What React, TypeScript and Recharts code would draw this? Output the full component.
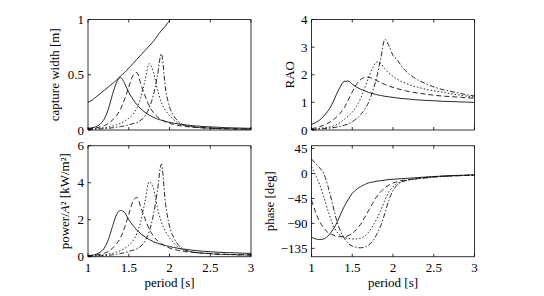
import React from 'react';
import { LineChart, Line, XAxis, YAxis } from 'recharts';

// period [s] samples shared by every curve
const period = [
  1.0, 1.05, 1.1, 1.15, 1.2, 1.25, 1.3, 1.35, 1.4, 1.45, 1.5, 1.55, 1.6, 1.65, 1.7, 1.75, 1.8,
  1.85, 1.9, 1.95, 2.0, 2.05, 2.1, 2.15, 2.2, 2.25, 2.3, 2.4, 2.5, 2.6, 2.7, 2.8, 2.9, 3.0,
];

// upper bound curve in the capture width panel (leaves the box just after 2 s)
const widthBound = [
  0.25, 0.27, 0.3, 0.33, 0.36, 0.39, 0.42, 0.45, 0.49, 0.52, 0.56, 0.6, 0.64, 0.68, 0.72, 0.76,
  0.8, 0.85, 0.9, 0.94, 0.99, 1.04,
];

const cwSolid = [0.015, 0.02, 0.03, 0.055, 0.1, 0.19, 0.32, 0.43, 0.475, 0.42, 0.34, 0.28, 0.23, 0.19, 0.16, 0.135, 0.115, 0.1, 0.088, 0.078, 0.07, 0.062, 0.056, 0.05, 0.046, 0.042, 0.038, 0.032, 0.028, 0.024, 0.021, 0.019, 0.017, 0.015];
const cwDashed = [0.01, 0.015, 0.02, 0.028, 0.04, 0.06, 0.09, 0.13, 0.19, 0.28, 0.39, 0.49, 0.52, 0.41, 0.31, 0.22, 0.16, 0.12, 0.095, 0.075, 0.06, 0.05, 0.042, 0.036, 0.031, 0.028, 0.025, 0.02, 0.017, 0.014, 0.012, 0.011, 0.01, 0.009];
const cwDotted = [0.008, 0.01, 0.013, 0.017, 0.022, 0.028, 0.036, 0.047, 0.06, 0.08, 0.105, 0.14, 0.2, 0.3, 0.45, 0.6, 0.53, 0.37, 0.25, 0.18, 0.13, 0.095, 0.065, 0.048, 0.038, 0.032, 0.027, 0.02, 0.016, 0.013, 0.011, 0.01, 0.009, 0.008];
const cwDashDot = [0.005, 0.006, 0.008, 0.01, 0.013, 0.016, 0.02, 0.025, 0.031, 0.038, 0.047, 0.057, 0.067, 0.09, 0.128, 0.197, 0.31, 0.48, 0.69, 0.38, 0.21, 0.13, 0.083, 0.055, 0.04, 0.032, 0.027, 0.021, 0.017, 0.013, 0.011, 0.009, 0.008, 0.007];

const raoSolid = [0.2, 0.27, 0.36, 0.5, 0.68, 0.92, 1.25, 1.55, 1.76, 1.77, 1.66, 1.56, 1.48, 1.42, 1.36, 1.32, 1.28, 1.25, 1.22, 1.2, 1.18, 1.16, 1.14, 1.13, 1.12, 1.1, 1.09, 1.07, 1.06, 1.04, 1.03, 1.02, 1.01, 1.0];
const raoDashed = [0.05, 0.08, 0.12, 0.17, 0.24, 0.33, 0.45, 0.6, 0.8, 1.08, 1.38, 1.65, 1.82, 1.9, 1.91, 1.86, 1.79, 1.72, 1.65, 1.59, 1.54, 1.5, 1.46, 1.42, 1.39, 1.36, 1.34, 1.3, 1.26, 1.23, 1.21, 1.19, 1.17, 1.15];
const raoDotted = [0.03, 0.04, 0.06, 0.08, 0.1, 0.13, 0.18, 0.27, 0.38, 0.5, 0.64, 0.85, 1.12, 1.5, 1.9, 2.25, 2.46, 2.4, 2.22, 2.06, 1.94, 1.84, 1.76, 1.7, 1.64, 1.59, 1.55, 1.48, 1.42, 1.37, 1.32, 1.27, 1.23, 1.19];
const raoDashDot = [0.02, 0.03, 0.04, 0.05, 0.06, 0.08, 0.1, 0.13, 0.17, 0.22, 0.3, 0.4, 0.55, 0.73, 1.0, 1.4, 1.9, 2.6, 3.28, 3.05, 2.7, 2.55, 2.33, 2.16, 2.02, 1.91, 1.82, 1.68, 1.56, 1.47, 1.4, 1.34, 1.28, 1.23];

const powerSolid = [0.06, 0.08, 0.13, 0.25, 0.47, 0.93, 1.63, 2.27, 2.5, 2.39, 2.0, 1.7, 1.44, 1.23, 1.07, 0.93, 0.81, 0.73, 0.66, 0.6, 0.55, 0.5, 0.46, 0.42, 0.4, 0.37, 0.34, 0.3, 0.27, 0.24, 0.22, 0.21, 0.19, 0.18];
const powerDashed = [0.04, 0.06, 0.09, 0.13, 0.19, 0.29, 0.46, 0.69, 1.04, 1.59, 2.29, 2.98, 3.2, 2.65, 2.06, 1.51, 1.13, 0.87, 0.71, 0.57, 0.47, 0.4, 0.35, 0.3, 0.27, 0.25, 0.23, 0.19, 0.17, 0.14, 0.13, 0.12, 0.11, 0.11];
const powerDotted = [0.03, 0.04, 0.06, 0.08, 0.1, 0.14, 0.18, 0.25, 0.33, 0.45, 0.62, 0.85, 1.25, 1.94, 3.0, 4.05, 3.74, 2.68, 1.86, 1.38, 1.02, 0.76, 0.53, 0.4, 0.33, 0.28, 0.24, 0.19, 0.16, 0.13, 0.12, 0.11, 0.1, 0.09];
const powerDashDot = [0.02, 0.02, 0.03, 0.05, 0.06, 0.08, 0.1, 0.13, 0.17, 0.22, 0.28, 0.35, 0.42, 0.58, 0.85, 1.35, 2.2, 3.5, 5.0, 2.9, 1.65, 1.05, 0.68, 0.46, 0.34, 0.28, 0.24, 0.2, 0.17, 0.13, 0.12, 0.1, 0.09, 0.08];

const phaseSolid = [-115, -118, -119, -118, -113, -104, -92, -76, -60, -47, -36, -29, -24, -20, -17, -15.5, -14, -13, -12, -11, -10.5, -10, -9.5, -9, -8.5, -8, -7.5, -6.5, -5.5, -4.8, -4, -3.5, -3, -2.5];
const phaseDashed = [-48, -70, -87, -98, -106, -110, -113, -114, -114, -112, -108, -101, -92, -80, -67, -54, -42, -33, -26, -21, -17, -15, -13, -12, -11, -10, -9, -7.5, -6, -5, -4.5, -4, -3.5, -3];
const phaseDotted = [12, -3, -20, -42, -66, -88, -103, -111, -115, -117, -118, -118, -117, -113, -106, -95, -82, -66, -48, -33, -24, -18, -15, -13, -11.5, -10.5, -9.5, -8, -6.5, -5.5, -4.5, -4, -3.5, -3];
const phaseDashDot = [26, 18, 10, 0, -22, -50, -80, -102, -116, -126, -131, -133, -134, -133, -129, -122, -110, -94, -72, -48, -31, -21, -16, -13, -11.5, -10.5, -9.5, -8, -6.5, -5.5, -4.5, -4, -3.5, -3];

const periodTicks = [1, 1.5, 2, 2.5, 3];
const cwTicks = [0, 0.5, 1];
const raoTicks = [0, 1, 2, 3, 4];
const powerTicks = [0, 2, 4, 6];
const phaseTicks = [-135, -90, -45, 0, 45];

const rows = period.map((T, i) => ({
  T,
  bound: i < widthBound.length ? widthBound[i] : null,
  cw1: cwSolid[i], cw2: cwDashed[i], cw3: cwDotted[i], cw4: cwDashDot[i],
  rao1: raoSolid[i], rao2: raoDashed[i], rao3: raoDotted[i], rao4: raoDashDot[i],
  p1: powerSolid[i], p2: powerDashed[i], p3: powerDotted[i], p4: powerDashDot[i],
  ph1: phaseSolid[i], ph2: phaseDashed[i], ph3: phaseDotted[i], ph4: phaseDashDot[i],
}));

const FONT = '"Liberation Serif", "Times New Roman", serif';
const dashes = [undefined, '5 3', '1.5 2', '5 2 1.5 2'];
const edge = { stroke: '#000', strokeWidth: 0.8 };
const tickText = { fontSize: 13, fontFamily: FONT, fill: '#000' };
const blank = () => '';
const minus = (v: number) => (v < 0 ? `\u2212${Math.abs(v)}` : `${v}`);

const yTitle = (x: number, body: React.ReactNode) => (props: any) => {
  const vb = props.viewBox || { y: 0, height: 0 };
  const cy = vb.y + vb.height / 2;
  return (
    <text x={x} y={cy} transform={`rotate(-90 ${x} ${cy})`} textAnchor="middle"
      fontSize={13} fontFamily={FONT} fill="#000">{body}</text>
  );
};

const xTitle = (baseline: number) => (props: any) => {
  const vb = props.viewBox || { x: 0, width: 0 };
  return (
    <text x={vb.x + vb.width / 2} y={baseline} textAnchor="middle" fontSize={13} fontFamily={FONT} fill="#000">
      period [s]
    </text>
  );
};

type PanelProps = {
  left: number; top: number; width: number; height: number;
  yAxisWidth: number; rightGap: number; topGap: number; xAxisHeight: number;
  keys: string[]; yDomain: [number, number]; yTicks: number[];
  titleX: number; title: React.ReactNode; bottomRow: boolean;
  bound?: boolean; fmt?: (v: number) => string;
};

function Panel(p: PanelProps) {
  return (
    <div style={{ position: 'absolute', left: p.left, top: p.top }}>
      <LineChart width={p.width} height={p.height} data={rows}
        margin={{ top: p.topGap, right: p.rightGap, bottom: 0, left: 0 }}>
        <XAxis dataKey="T" type="number" domain={[1, 3]} ticks={periodTicks} interval={0}
          height={p.xAxisHeight} tickSize={-3} tickMargin={9} tickLine={edge} axisLine={edge}
          tick={tickText} tickFormatter={p.bottomRow ? undefined : blank}
          label={p.bottomRow ? xTitle(156) : undefined} />
        <XAxis xAxisId="top" orientation="top" dataKey="T" type="number" domain={[1, 3]}
          ticks={periodTicks} interval={0} height={1} tickSize={-3} tickLine={edge} axisLine={edge}
          tick={tickText} tickFormatter={blank} />
        <YAxis type="number" domain={p.yDomain} ticks={p.yTicks} interval={0} width={p.yAxisWidth}
          allowDataOverflow tickSize={-3} tickMargin={7} tickLine={edge} axisLine={edge}
          tick={tickText} tickFormatter={p.fmt} label={yTitle(p.titleX, p.title)} />
        <YAxis yAxisId="right" orientation="right" type="number" domain={p.yDomain} ticks={p.yTicks}
          interval={0} width={1} tickSize={-3} tickLine={edge} axisLine={edge}
          tick={tickText} tickFormatter={blank} />
        {p.bound && (
          <Line dataKey="bound" type="monotone" stroke="#111" strokeWidth={0.9} dot={false}
            isAnimationActive={false} />
        )}
        {p.keys.map((k, i) => (
          <Line key={k} dataKey={k} type="monotone" stroke="#111" strokeWidth={0.9}
            strokeDasharray={dashes[i]} dot={false} isAnimationActive={false} />
        ))}
      </LineChart>
    </div>
  );
}

export default function App() {
  return (
    <div style={{ position: 'absolute', left: 0, top: 0, width: 544, height: 296, background: '#fff' }}>
      <Panel left={0} top={0} width={260} height={140} yAxisWidth={88} rightGap={8} topGap={18.5}
        xAxisHeight={10} keys={['cw1', 'cw2', 'cw3', 'cw4']} yDomain={[0, 1]} yTicks={cwTicks}
        titleX={59} title="capture width [m]" bottomRow={false} bound />
      <Panel left={260} top={0} width={284} height={140} yAxisWidth={51.5} rightGap={68.5} topGap={18.5}
        xAxisHeight={10} keys={['rao1', 'rao2', 'rao3', 'rao4']} yDomain={[0, 4]} yTicks={raoTicks}
        titleX={33.5} title="RAO" bottomRow={false} />
      <Panel left={0} top={131} width={260} height={165} yAxisWidth={88} rightGap={8} topGap={13.7}
        xAxisHeight={39.3} keys={['p1', 'p2', 'p3', 'p4']} yDomain={[0, 6]} yTicks={powerTicks}
        titleX={68.8}
        title={<>power/<tspan fontStyle="italic">A</tspan>² [kW/m²]</>}
        bottomRow />
      <Panel left={260} top={131} width={284} height={165} yAxisWidth={51.5} rightGap={68.5} topGap={13.7}
        xAxisHeight={39.3} keys={['ph1', 'ph2', 'ph3', 'ph4']} yDomain={[-150, 50]} yTicks={phaseTicks}
        titleX={14.1} title="phase [deg]" bottomRow fmt={minus} />
    </div>
  );
}
